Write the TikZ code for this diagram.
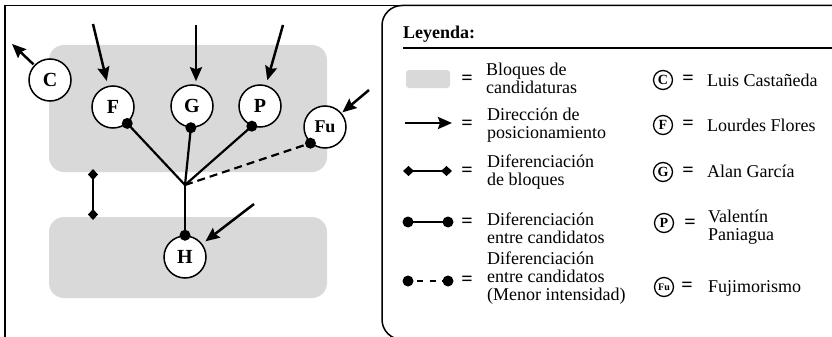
\documentclass[tikz,border=0pt]{standalone}
\usepackage{fontspec}
\setmainfont{Liberation Serif}
\usetikzlibrary{arrows.meta,calc}
\definecolor{blockgray}{RGB}{217,217,217}
\newcommand{\lgt}[1]{\begin{tabular}[t]{@{}l@{}}#1\end{tabular}}
\tikzset{
  cand/.style={circle, draw, line width=1.5pt, fill=white, minimum size=42pt, inner sep=0pt, font=\fontsize{20}{20}\selectfont\bfseries},
  lcand/.style={circle, draw, line width=1.3pt, fill=white, minimum size=19pt, inner sep=0pt, font=\fontsize{14}{14}\selectfont\bfseries},
  block/.style={fill=blockgray, rounded corners=15pt},
  dirarrow/.style={line width=2.5pt, -{Stealth[length=14pt,width=12pt,inset=2pt]}},
  conn/.style={line width=2.2pt},
  weakconn/.style={line width=2.2pt, dash pattern=on 8pt off 5pt},
  blockdiff/.style={line width=2.5pt, {Diamond[length=11pt,width=10pt]}-{Diamond[length=11pt,width=10pt]}},
  frame/.style={line width=1.5pt},
  txt/.style={font=\fontsize{18}{18}\selectfont, inner sep=0pt},
  eqs/.style={font=\fontsize{20}{18}\selectfont\bfseries, inner sep=0pt},
}
\begin{document}
\begin{tikzpicture}[x=1pt,y=-1pt]
\useasboundingbox (0,0) rectangle (832,337);
\clip (0,0) rectangle (832,337);
% blocks
\fill[block] (49,45) rectangle (327,172);
\fill[block] (49,217) rectangle (327,298);
% frame
\draw[frame] (5,345) -- (5,5.5) -- (845,5.5);
\draw[frame, rounded corners=20pt] (845,5.5) -- (382,5.5) -- (382,339.5) -- (845,339.5);
% candidate nodes
\node[cand] (C) at (50,80) {C};
\node[cand] (F) at (113,107) {F};
\node[cand] (G) at (192,106) {G};
\node[cand] (P) at (260,106) {P};
\node[cand, font=\fontsize{18}{18}\selectfont\bfseries] (Fu) at (325,127) {Fu};
\node[cand] (H) at (185,257) {H};
\coordinate (J) at (185,185);
% connectors
\draw[conn] (J) -- (F.-49);
\draw[conn] (J) -- (G.-93);
\draw[conn] (J) -- (P.-112);
\draw[weakconn] (J) -- (Fu.-132);
\draw[conn] (J) -- (H.90);
\foreach \a in {F.-49,G.-93,P.-112,Fu.-132,H.90}{\fill (\a) circle[radius=5.5pt];}
% direction arrows
\coordinate (cTip) at (12,44);
\draw[dirarrow, shorten <=1pt] (C) -- (cTip);
\coordinate (fTail) at (93,24);
\draw[dirarrow, shorten >=5pt] (fTail) -- (F);
\coordinate (gTail) at (196,25);
\draw[dirarrow, shorten >=3pt] (gTail) -- (gTail |- G.north);
\coordinate (pTail) at (283,25);
\draw[dirarrow, shorten >=5pt] (pTail) -- (P);
\coordinate (fuTail) at (369,90);
\draw[dirarrow, shorten >=1pt] (fuTail) -- (Fu);
\coordinate (hTail) at (254,204);
\draw[dirarrow, shorten >=4pt] (hTail) -- (H);
% block differentiation
\coordinate (bd1) at (93,169);
\coordinate (bd2) at (93,220);
\draw[blockdiff] (bd1) -- (bd2);
% legend
\node[anchor=base west, font=\fontsize{18}{18}\selectfont\bfseries, inner sep=0pt] (ley) at (403,38) {Leyenda:};
\draw[frame] (403,48) -- (845,48);
% left column symbols
\fill[blockgray, rounded corners=3pt] (406,70) rectangle (450,88);
\draw[dirarrow] (405,123) -- (452,123);
\draw[blockdiff] (403,171) -- (452,171);
\draw[conn] (408,222) -- (448,222);
\fill (408,222) circle[radius=5.5pt];
\fill (448,222) circle[radius=5.5pt];
\draw[line width=2.2pt, dash pattern=on 6pt off 6.5pt, dash phase=3.5pt] (408,281) -- (448,281);
\fill (408,281) circle[radius=5.5pt];
\fill (448,281) circle[radius=5.5pt];
\foreach \y in {80,125,172,223,281}{\node[eqs] at (467,\y) {=};}
\node[txt, anchor=base west] at (486,75) {\lgt{Bloques de\\candidaturas}};
\node[txt, anchor=base west] at (487,120) {\lgt{Dirección de\\posicionamiento}};
\node[txt, anchor=base west] at (487,167) {\lgt{Diferenciación\\de bloques}};
\node[txt, anchor=base west] at (487,225) {\lgt{Diferenciación\\entre candidatos}};
\node[txt, anchor=base west] at (487,264) {\lgt{Diferenciación\\entre candidatos\\(Menor intensidad)}};
% right column
\node[lcand] (lC) at (663,80) {C};
\node[lcand] (lF) at (663,125) {F};
\node[lcand] (lG) at (663,172) {G};
\node[lcand] (lP) at (664,223) {P};
\node[lcand, font=\fontsize{10}{10}\selectfont\bfseries] (lFu) at (664,287) {Fu};
\foreach \y in {80,125,172}{\node[eqs] at (688,\y) {=};}
\node[eqs] at (690,224) {=};
\node[eqs] at (687,287) {=};
\node[txt, anchor=base west] at (707,86) {Luis Castañeda};
\node[txt, anchor=base west] at (707,131) {Lourdes Flores};
\node[txt, anchor=base west] at (707,177) {Alan García};
\node[txt, anchor=base west] at (708,222) {\lgt{Valentín\\Paniagua}};
\node[txt, anchor=base west] at (708,292) {Fujimorismo};
\end{tikzpicture}
\end{document}
